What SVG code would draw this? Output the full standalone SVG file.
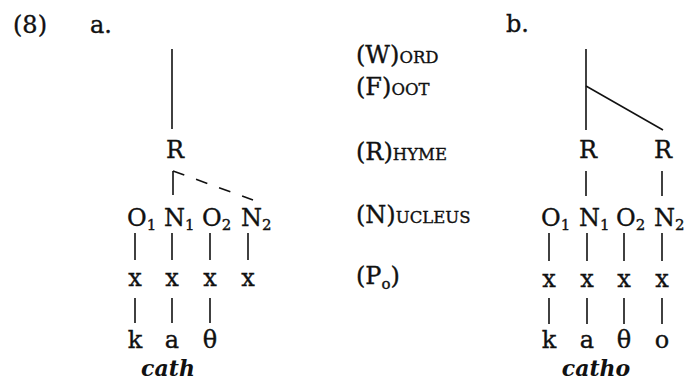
<svg xmlns="http://www.w3.org/2000/svg" width="687" height="384" viewBox="0 0 687 384">
<style>
text{font-family:"DejaVu Serif","Liberation Serif",serif;font-size:24px;fill:#111;stroke:#111;stroke-width:0.35}
.sc{font-size:16.5px}
.sub{font-size:15px}
.w{font-weight:bold;font-style:italic;stroke-width:0;font-size:22px}
line{stroke:#111;stroke-width:1.6;fill:none}
.d{stroke-dasharray:12 12.5}
</style>
<rect width="687" height="384" fill="#fff"/>
<g id="labels">
<text x="13" y="33">(8)</text>
<text x="90" y="33">a.</text>
<text x="506" y="32">b.</text>
</g>
<g id="legend">
<text x="356" y="63">(W)<tspan class="sc">ORD</tspan></text>
<text x="356" y="95">(F)<tspan class="sc">OOT</tspan></text>
<text x="356" y="160">(R)<tspan class="sc">HYME</tspan></text>
<text x="356" y="223">(N)<tspan class="sc">UCLEUS</tspan></text>
<text x="356" y="284">(P<tspan class="sub" dy="5">o</tspan><tspan dy="-5">)</tspan></text>
</g>
<g id="connectors">
<line x1="172" y1="49" x2="172" y2="129"/>
<line x1="173" y1="171" x2="173" y2="195"/>
<line class="d" x1="173" y1="171" x2="253" y2="200"/>
<line x1="135" y1="233" x2="135" y2="260"/>
<line x1="172" y1="233" x2="172" y2="260"/>
<line x1="210" y1="233" x2="210" y2="260"/>
<line x1="248" y1="233" x2="248" y2="260"/>
<line x1="135" y1="298" x2="135" y2="323"/>
<line x1="172" y1="298" x2="172" y2="323"/>
<line x1="210" y1="298" x2="210" y2="323"/>
<line x1="586" y1="49" x2="586" y2="130"/>
<line x1="586" y1="86" x2="663" y2="130"/>
<line x1="586" y1="171" x2="586" y2="196"/>
<line x1="662" y1="171" x2="662" y2="196"/>
<line x1="549" y1="233" x2="549" y2="261"/>
<line x1="587" y1="233" x2="587" y2="261"/>
<line x1="624" y1="233" x2="624" y2="261"/>
<line x1="662" y1="233" x2="662" y2="261"/>
<line x1="549" y1="298" x2="549" y2="324"/>
<line x1="587" y1="298" x2="587" y2="324"/>
<line x1="624" y1="298" x2="624" y2="324"/>
<line x1="662" y1="298" x2="662" y2="324"/>
</g>
<g id="tree-a">
<g id="a-R"><text x="175" y="158" text-anchor="middle">R</text></g>
<g id="a-O1"><text x="127" y="226">O<tspan class="sub" dy="4">1</tspan></text></g>
<g id="a-N1"><text x="164" y="226">N<tspan class="sub" dy="4">1</tspan></text></g>
<g id="a-O2"><text x="202" y="226">O<tspan class="sub" dy="4">2</tspan></text></g>
<g id="a-N2"><text x="241" y="226">N<tspan class="sub" dy="4">2</tspan></text></g>
<g id="a-x"><text x="135" y="286" text-anchor="middle">x</text><text x="172" y="286" text-anchor="middle">x</text><text x="210" y="286" text-anchor="middle">x</text><text x="248" y="286" text-anchor="middle">x</text></g>
<g id="a-seg"><text x="135" y="348" text-anchor="middle">k</text><text x="172" y="348" text-anchor="middle">a</text><text x="210" y="348" text-anchor="middle">θ</text></g>
<g id="a-word"><text class="w" x="168" y="376" text-anchor="middle">cath</text></g>
</g>
<g id="tree-b">
<g id="b-R1"><text x="588" y="158" text-anchor="middle">R</text></g>
<g id="b-R2"><text x="663" y="158" text-anchor="middle">R</text></g>
<g id="b-O1"><text x="541" y="226">O<tspan class="sub" dy="4">1</tspan></text></g>
<g id="b-N1"><text x="579" y="226">N<tspan class="sub" dy="4">1</tspan></text></g>
<g id="b-O2"><text x="616" y="226">O<tspan class="sub" dy="4">2</tspan></text></g>
<g id="b-N2"><text x="654" y="226">N<tspan class="sub" dy="4">2</tspan></text></g>
<g id="b-x"><text x="549" y="287" text-anchor="middle">x</text><text x="587" y="287" text-anchor="middle">x</text><text x="624" y="287" text-anchor="middle">x</text><text x="662" y="287" text-anchor="middle">x</text></g>
<g id="b-seg"><text x="549" y="348" text-anchor="middle">k</text><text x="587" y="348" text-anchor="middle">a</text><text x="624" y="348" text-anchor="middle">θ</text><text x="662" y="348" text-anchor="middle">o</text></g>
<g id="b-word"><text class="w" x="596" y="376" text-anchor="middle">catho</text></g>
</g>
</svg>
